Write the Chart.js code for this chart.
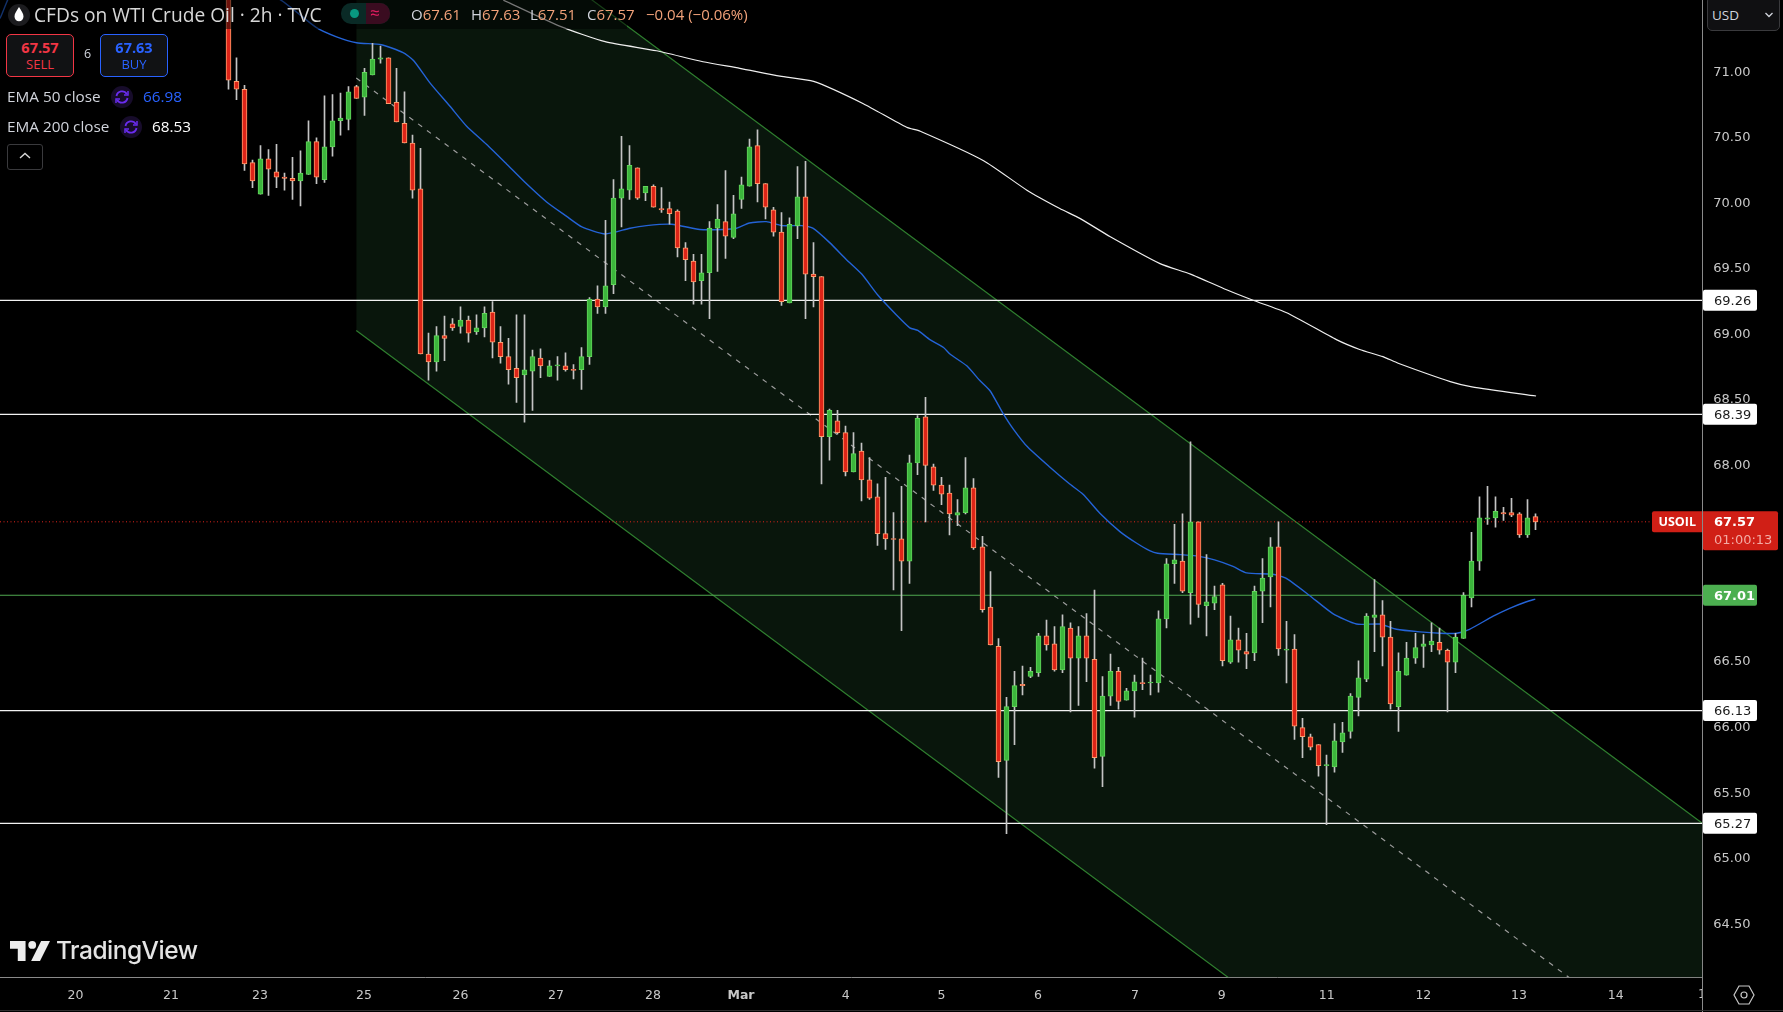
<!DOCTYPE html>
<html>
<head>
<meta charset="utf-8">
<title>CFDs on WTI Crude Oil</title>
<script src="https://cdn.jsdelivr.net/npm/chart.js@4"></script>
<style>
html, body { margin:0; padding:0; background:#000; width:1783px; height:1012px; overflow:hidden; }
#wrap { position:relative; width:1783px; height:1012px; font-family:"Open Sans", sans-serif; color:#d1d4dc; }
canvas { position:absolute; left:0; top:0; }
.abs { position:absolute; white-space:nowrap; }
.band { position:absolute; left:0; top:0; width:627px; height:29px; background:rgba(0,0,0,0.5); }
.trade { position:absolute; top:34px; height:41px; width:66px; border-radius:5px; background:#111214; text-align:center; }
.trade b { display:block; font-size:14.5px; line-height:17px; margin-top:4px; font-weight:700; }
.trade span { display:block; font-size:13px; line-height:17px; }
.vline { position:absolute; left:1702px; top:977px; width:1px; height:35px; background:#8a8a8a; }
.ohlc { position:absolute; white-space:nowrap; top:3px; font-size:15px; line-height:22px; color:#f2a27a; }
.ohlc span { color:#d1d4dc; }
.legend { position:absolute; white-space:nowrap; font-size:15.3px; line-height:20px; }
</style>
</head>
<body>
<div id="wrap">
    <canvas id="chart" width="1783" height="1012"></canvas>

    <div class="band"></div>

    <svg class="abs" style="left:7px;top:3px" width="24" height="24" viewBox="0 0 24 24">
        <circle cx="12" cy="12" r="11" fill="#1c1c1f"/>
        <path d="M12 4 C14.5 8 16.5 10.5 16.5 13.5 A4.5 4.8 0 0 1 7.5 13.5 C7.5 10.5 9.5 8 12 4 Z" fill="#fff"/>
    </svg>
    <div class="abs" style="left:34px;top:3px;font-size:19.2px;line-height:24px;color:#d8d8d8">CFDs on WTI Crude Oil · 2h · TVC</div>

    <div class="abs" style="left:341px;top:3px;width:49px;height:21px;border-radius:10px;overflow:hidden;background:#0a2a26">
        <div class="abs" style="left:25px;top:0;width:24px;height:21px;background:#3a0c20"></div>
        <div class="abs" style="left:8.5px;top:6px;width:9px;height:9px;border-radius:5px;background:#089981"></div>
        <div class="abs" style="left:29px;top:-1px;font-size:17px;line-height:21px;color:#e91e63">≈</div>
    </div>

    <div class="ohlc" style="left:411px"><span>O</span>67.61</div>
    <div class="ohlc" style="left:471px"><span>H</span>67.63</div>
    <div class="ohlc" style="left:530px"><span>L</span>67.51</div>
    <div class="ohlc" style="left:587px"><span>C</span>67.57</div>
    <div class="ohlc" style="left:646px">−0.04 (−0.06%)</div>

    <div class="trade" style="left:6px;border:1px solid #f23645;color:#f23645"><b>67.57</b><span>SELL</span></div>
    <div class="abs" style="left:84px;top:45px;font-size:12.5px;line-height:18px;color:#d1d4dc">6</div>
    <div class="trade" style="left:100px;border:1px solid #2962ff;color:#2962ff"><b>67.63</b><span>BUY</span></div>

    <div class="legend" style="left:7px;top:86px;color:#d1d4dc">EMA 50 close</div>
    <svg class="abs" style="left:111px;top:86px" width="22" height="22" viewBox="0 0 22 22">
        <circle cx="11" cy="11" r="11" fill="#170c2b"/>
        <path d="M5.5 10 A5.6 5.6 0 0 1 15.8 8 M16.5 12 A5.6 5.6 0 0 1 6.2 14" fill="none" stroke="#6a2cf0" stroke-width="1.8"/>
        <path d="M17 5 V9 H13 M5 17 V13 H9" fill="none" stroke="#6a2cf0" stroke-width="1.5"/>
    </svg>
    <div class="legend" style="left:143px;top:86px;color:#2962ff">66.98</div>

    <div class="legend" style="left:7px;top:116px;color:#d1d4dc">EMA 200 close</div>
    <svg class="abs" style="left:119.5px;top:116px" width="22" height="22" viewBox="0 0 22 22">
        <circle cx="11" cy="11" r="11" fill="#170c2b"/>
        <path d="M5.5 10 A5.6 5.6 0 0 1 15.8 8 M16.5 12 A5.6 5.6 0 0 1 6.2 14" fill="none" stroke="#6a2cf0" stroke-width="1.8"/>
        <path d="M17 5 V9 H13 M5 17 V13 H9" fill="none" stroke="#6a2cf0" stroke-width="1.5"/>
    </svg>
    <div class="legend" style="left:152px;top:116px;color:#fff">68.53</div>

    <div class="abs" style="left:7px;top:144px;width:34px;height:24px;border:1px solid #3a3a3d;border-radius:3px"></div>
    <svg class="abs" style="left:17px;top:150px" width="16" height="12" viewBox="0 0 16 12">
        <path d="M3 8 L8 3.5 L13 8" fill="none" stroke="#d8d8d8" stroke-width="1.4"/>
    </svg>

    <svg class="abs" style="left:10px;top:941px" width="40" height="20" viewBox="0 0 36 18">
        <path d="M0 0 H14 V18 H7 V7 H0 Z" fill="#ececec"/>
        <circle cx="20" cy="3.5" r="3.5" fill="#ececec"/>
        <path d="M28 0 H36 L27 18 H19 Z" fill="#ececec"/>
    </svg>
    <div class="abs" style="left:56px;top:933px;font-family:Inter, sans-serif;font-size:24.5px;line-height:34px;font-weight:500;letter-spacing:-0.5px;color:#e4e4e4">TradingView</div>

    <div class="abs" style="left:1707px;top:-4px;width:71px;height:33px;border:1px solid #3a3a3d;border-radius:5px;background:#101012"></div>
    <div class="abs" style="left:1712px;top:6px;font-size:13.5px;line-height:18px;color:#d1d4dc">USD</div>
    <svg class="abs" style="left:1764px;top:11px" width="10" height="8" viewBox="0 0 10 8">
        <path d="M1.5 2 L5 5.5 L8.5 2" fill="none" stroke="#d1d4dc" stroke-width="1.3"/>
    </svg>

    <div class="vline"></div>
    <div class="abs" style="left:0;top:1010px;width:1783px;height:1px;background:#2e2e2e"></div>
    <svg class="abs" style="left:1733px;top:983px" width="22" height="24" viewBox="0 0 22 24">
        <path d="M6 3 H16 L21 12 L16 21 H6 L1 12 Z" fill="none" stroke="#c8c8c8" stroke-width="1.2"/>
        <circle cx="11" cy="12" r="3" fill="none" stroke="#c8c8c8" stroke-width="1.2"/>
    </svg>
</div>

<script>
// ================= CANDLES (2h bars) =================
let opens = [
    72.0,70.93,70.87,70.31,70.07,70.34,70.24,70.20,70.19,70.17,
    70.22,70.47,70.18,70.43,70.63,70.64,70.89,70.81,70.98,71.10,
    71.11,70.77,70.61,70.46,70.11,68.85,68.79,68.99,69.08,69.06,
    69.11,69.02,69.05,69.17,68.94,68.83,68.74,68.69,68.72,68.82,
    68.68,68.76,68.76,68.73,68.73,68.83,69.27,69.21,69.38,70.04,
    70.10,70.27,70.08,70.13,69.96,69.96,69.94,69.66,69.56,69.41,
    69.47,69.81,69.86,69.74,70.03,70.13,70.44,70.15,69.95,69.78,
    69.24,69.83,70.05,69.46,69.44,68.22,68.34,68.25,67.95,68.11,
    67.89,67.76,67.48,67.44,67.44,67.27,68.02,68.37,67.99,67.85,
    67.79,67.62,67.64,67.83,67.38,66.92,66.62,65.75,66.16,66.33,
    66.39,66.42,66.70,66.64,66.44,66.76,66.53,66.70,66.52,65.78,
    66.24,66.43,66.21,66.28,66.34,66.34,66.34,66.83,67.25,67.27,
    67.03,67.57,66.93,66.95,67.09,66.50,66.67,66.58,66.57,67.04,
    67.15,67.38,66.59,66.60,66.00,65.93,65.87,65.71,65.70,65.89,
    65.97,66.23,66.37,66.84,66.86,66.69,66.16,66.40,66.53,66.62,
    66.63,66.65,66.59,66.50,66.68,66.99,67.27,67.59,67.60,67.64,67.64,67.63,67.47,67.61
];
let highs = [
    72.1,71.11,70.90,70.33,70.44,70.41,70.45,70.23,70.35,70.40,
    70.63,70.50,70.82,70.83,70.84,70.89,70.90,71.03,71.22,71.20,
    71.11,71.03,70.85,70.52,70.42,69.01,69.06,69.14,69.12,69.21,
    69.14,69.15,69.21,69.25,69.06,68.97,69.15,69.15,68.88,68.89,
    68.80,68.83,68.86,68.77,68.90,69.28,69.37,69.87,70.18,70.51,
    70.44,70.27,70.13,70.14,70.12,70.01,69.95,69.70,69.61,69.61,
    69.86,69.99,70.25,70.06,70.20,70.49,70.56,70.15,69.97,69.93,
    69.89,70.28,70.32,69.70,69.44,68.43,68.42,68.30,68.25,68.17,
    68.06,67.86,67.91,67.64,67.84,68.08,68.38,68.52,68.01,67.91,
    67.85,67.74,68.06,67.90,67.46,67.19,66.68,66.23,66.43,66.47,
    66.46,66.72,66.82,66.77,66.86,66.80,66.77,66.87,67.05,66.39,
    66.56,66.46,66.30,66.40,66.53,66.40,66.89,67.29,67.55,67.63,
    68.18,67.57,67.32,67.08,67.10,66.85,66.76,66.72,67.08,67.29,
    67.45,67.57,66.81,66.71,66.07,65.95,65.87,65.79,66.03,66.04,
    66.26,66.51,66.87,67.13,66.97,66.81,66.57,66.65,66.72,66.71,
    66.80,66.76,66.60,66.72,67.03,67.49,67.76,67.84,67.76,67.68,67.75,67.64,67.74,67.63
];
let lows = [
    70.87,70.79,70.25,70.12,70.07,70.06,70.12,70.10,70.03,69.98,
    70.22,70.15,70.16,70.36,70.52,70.56,70.80,70.67,70.98,71.07,
    70.76,70.62,70.46,70.04,68.85,68.65,68.72,68.80,69.03,69.01,
    68.94,69.00,68.98,68.82,68.78,68.62,68.48,68.33,68.42,68.67,
    68.68,68.65,68.72,68.66,68.58,68.77,69.16,69.16,69.31,69.82,
    70.03,70.03,70.02,69.97,69.93,69.84,69.59,69.41,69.23,69.23,
    69.12,69.48,69.58,69.73,69.96,70.13,70.01,69.88,69.75,69.22,
    69.24,69.73,69.12,69.21,67.86,68.04,68.24,67.92,67.95,67.73,
    67.74,67.39,67.36,67.05,66.74,67.10,67.93,67.57,67.81,67.70,
    67.47,67.54,67.63,67.36,66.88,66.63,65.62,65.19,65.87,66.25,
    66.38,66.39,66.59,66.43,66.42,66.12,66.17,66.35,65.69,65.55,
    66.17,66.14,66.21,66.08,66.29,66.25,66.27,66.76,67.10,67.03,
    66.79,66.84,66.70,66.90,66.47,66.49,66.50,66.45,66.51,66.80,
    66.92,66.55,66.34,65.91,65.77,65.83,65.63,65.26,65.66,65.81,
    65.92,66.09,66.35,66.58,66.47,66.14,65.97,66.40,66.49,66.46,
    66.58,66.56,66.12,66.42,66.68,66.92,67.20,67.55,67.53,67.58,67.61,67.45,67.45,67.51
];
let closes = [
    70.94,70.87,70.30,70.17,70.34,70.26,70.20,70.19,70.17,70.23,
    70.47,70.20,70.43,70.63,70.65,70.85,70.80,71.00,71.10,71.11,
    70.76,70.62,70.46,70.10,68.85,68.79,68.99,68.97,69.05,69.11,
    69.01,69.05,69.16,68.94,68.83,68.73,68.67,68.73,68.83,68.76,
    68.76,68.765,68.73,68.725,68.83,69.27,69.21,69.37,70.04,70.11,
    70.29,70.04,70.13,69.97,69.95,69.92,69.66,69.57,69.40,69.47,
    69.81,69.88,69.75,69.92,70.14,70.43,70.15,69.97,69.78,69.25,
    69.84,70.05,69.46,69.44,68.22,68.42,68.25,67.95,68.09,67.89,
    67.75,67.48,67.44,67.435,67.27,68.02,68.36,68.00,67.85,67.78,
    67.63,67.64,67.83,67.37,66.90,66.63,65.74,66.16,66.32,66.32,
    66.43,66.70,66.63,66.44,66.77,66.53,66.70,66.53,65.77,66.24,
    66.43,66.20,66.28,66.35,66.335,66.34,66.83,67.25,67.28,67.04,
    67.57,66.94,66.96,67.00,66.51,66.67,66.59,66.56,67.04,67.14,
    67.38,66.60,66.60,66.01,65.93,65.85,65.71,65.71,65.90,65.96,
    66.24,66.38,66.85,66.86,66.69,66.18,66.43,66.53,66.61,66.64,
    66.66,66.59,66.50,66.69,67.01,67.27,67.60,67.60,67.65,67.63,67.62,67.47,67.60,67.57
];

// ================= EMA LINES (bar number, price) =================
let ema50Bars = [-28.47,-26,-5,6.57,11,13.5,16,19.1,21.8,23.1,25.2,27.65,29.7,32.2,34.7,37,39.7,42.2,44.1,47,50.1,52.15,55.3,58.8,61.7,63.4,65,67.1,69,71.5,72.9,75,77.1,79,81,83.3,85,86,87.5,89.2,90,92.1,93.7,95,96.6,98,99.7,102.4,104.9,106.6,108.7,111.2,113.2,114.9,115.9,118.8,120.7,123,125.3,127,130.25,131.9,134.8,137.75,140.7,143.6,145.7,148.6,151.1,153.2,154.8,157.75,159.8,161.9,163];
let ema50 = [71.41,71.7,71.95,71.55,71.34,71.27,71.225,71.21,71.15,71.09,70.915,70.74,70.59,70.45,70.30,70.16,70.01,69.90,69.82,69.766,69.81,69.83,69.84,69.80,69.80,69.81,69.85,69.86,69.83,69.83,69.81,69.70,69.57,69.46,69.30,69.15,69.05,69.03,68.96,68.90,68.85,68.76,68.65,68.57,68.40,68.27,68.14,67.99,67.86,67.78,67.635,67.495,67.41,67.35,67.33,67.32,67.31,67.28,67.23,67.18,67.17,67.14,67.01,66.87,66.79,66.79,66.75,66.73,66.72,66.72,66.75,66.85,66.91,66.96,66.98];
let ema200Bars = [34.3,41.4,47,53.4,59.2,63.8,68.8,73,79.2,84.6,86.3,94.2,99.6,103.7,106.2,110,116.2,120,124.5,127.8,132,138.2,141.1,144,145.9,152.4,155.1,163.1];
let ema200 = [71.55,71.35,71.233,71.164,71.08,71.03,70.97,70.93,70.76,70.58,70.55,70.325,70.10,69.96,69.885,69.745,69.54,69.46,69.34,69.26,69.165,68.96,68.885,68.83,68.78,68.64,68.60,68.53];

// ================= CHANNEL (bar number, price) =================
let channelBars = [15.96,183.83];
let channelUpper = [72.885,65.27];
let channelMiddle = [70.956,63.34];
let channelLower = [69.03,61.41];

// ================= LEVELS =================
let whiteLevels = [69.26,68.39,66.13,65.27];
let greenLevel = 67.01;
let lastPrice = 67.57;

// ================= AXES =================
let priceTicks = [64.5,65,65.5,66,66.5,67,67.5,68,68.5,69,69.5,70,70.5,71];
let dayLabels = ["20","21","23","25","26","27","28","Mar","4","5","6","7","9","11","12","13","14"];
let dayBars = [-19.06,-7.15,3.95,16.92,28.95,40.87,52.97,63.94,76.99,88.96,100.98,113.07,123.9,137,149.04,160.97,173.03];
let clippedDayLabel = "15";
let clippedDayBar = 184.3;

const priceMin = 64.095;
const priceMax = 71.551;
const barMin = -28.47;
const barMax = 183.83;

const RED_FILL = "#dd2418";
const RED_EDGE = "#ff9d6c";
const GREEN_FILL = "#3cb53c";
const GREEN_EDGE = "#62d45c";
const TICK_FONT = "DejaVu Sans";

// ================= BUILD DATASETS =================
function pairs(xs, ys){

    return xs.map((x, i) => ({ x: x, y: ys[i] }));

}

function levelLine(value, color, width, dash, order){

    return {
        type: "line",
        data: pairs([barMin, barMax], [value, value]),
        borderColor: color,
        borderWidth: width,
        borderDash: dash,
        pointRadius: 0,
        order: order
    };

}

// scale padding would push the plot away from the window edges
function noPadding(scale){

    scale.paddingTop = 0;
    scale.paddingBottom = 0;
    scale.paddingLeft = 0;
    scale.paddingRight = 0;

}

let isUp = closes.map((c, i) => c >= opens[i]);

let wicks = {
    type: "bar",
    data: highs.map((h, i) => ({ x: i, y: [lows[i], h] })),
    backgroundColor: "#c4c4c4",
    borderWidth: 0,
    barThickness: 1,
    grouped: false,
    order: 2
};

let bodies = {
    type: "bar",
    data: opens.map((o, i) => ({ x: i, y: [Math.min(o, closes[i]), Math.max(o, closes[i])] })),
    backgroundColor: isUp.map(u => u ? GREEN_FILL : RED_FILL),
    borderColor: isUp.map(u => u ? GREEN_EDGE : RED_EDGE),
    borderWidth: 1,
    borderSkipped: false,
    barThickness: 5,
    minBarLength: 1,
    grouped: false,
    order: 1
};

let datasets = [

    // 0: upper edge, filled down to the lower edge (dataset 1)
    {
        type: "line",
        data: pairs(channelBars, channelUpper),
        borderColor: "#2f7f2f",
        borderWidth: 1.2,
        pointRadius: 0,
        fill: { target: 1 },
        backgroundColor: "#09160c",
        order: 20
    },
    {
        type: "line",
        data: pairs(channelBars, channelLower),
        borderColor: "#2f7f2f",
        borderWidth: 1.2,
        pointRadius: 0,
        order: 19
    },
    {
        type: "line",
        data: pairs(channelBars, channelMiddle),
        borderColor: "#9c9c9c",
        borderWidth: 1.2,
        borderDash: [5, 6],
        pointRadius: 0,
        order: 18
    },

    levelLine(lastPrice, "#e0241c", 1, [1, 2.5], 10),
    levelLine(greenLevel, "#4fa84f", 1.1, [], 9),
    ...whiteLevels.map(v => levelLine(v, "#f2f2f2", 1.2, [], 8)),

    {
        type: "line",
        data: pairs(ema200Bars, ema200),
        borderColor: "#eeeeee",
        borderWidth: 1.2,
        pointRadius: 0,
        tension: 0.2,
        order: 7
    },
    {
        type: "line",
        data: pairs(ema50Bars, ema50),
        borderColor: "#2463d6",
        borderWidth: 1.4,
        pointRadius: 0,
        tension: 0.2,
        order: 6
    },

    wicks,
    bodies

];

// ================= PLUGIN: CRISP CANDLES =================
let snapCandles = {

    id: "snapCandles",

    beforeDatasetDraw(chart, args){

        if(args.meta.type !== "bar"){
            return;
        }

        args.meta.data.forEach(el => {
            el.x = Math.round(el.x - 0.5) + 0.5;
        });

    }

};

// ================= PLUGIN: PRICE TAGS =================
function priceTag(ctx, y, text, fill, color){

    ctx.fillStyle = fill;
    ctx.beginPath();
    ctx.roundRect(1703, y - 10.5, 54, 21, 2);
    ctx.fill();

    ctx.fillStyle = color;
    ctx.textAlign = "left";
    ctx.textBaseline = "middle";
    ctx.fillText(text, 1714, y + 1);

}

let priceTags = {

    id: "priceTags",

    afterDraw(chart){

        let ctx = chart.ctx;
        let yScale = chart.scales.y;
        let xScale = chart.scales.x;

        ctx.save();
        ctx.font = "13px " + TICK_FONT;

        whiteLevels.forEach(v => {
            priceTag(ctx, yScale.getPixelForValue(v), v.toFixed(2), "#ffffff", "#1a1a1a");
        });

        ctx.font = "bold 13px " + TICK_FONT;
        priceTag(ctx, yScale.getPixelForValue(greenLevel), greenLevel.toFixed(2), "#4caf50", "#ffffff");

        // last price: symbol tag, price and countdown
        let lastY = yScale.getPixelForValue(lastPrice);

        ctx.fillStyle = "#d01f16";
        ctx.beginPath();
        ctx.roundRect(1652, lastY - 10.5, 50, 21, [2, 0, 0, 2]);
        ctx.fill();
        ctx.beginPath();
        ctx.roundRect(1703, lastY - 10.5, 75, 39, [0, 2, 2, 2]);
        ctx.fill();

        ctx.textAlign = "left";
        ctx.textBaseline = "middle";
        ctx.fillStyle = "#ffffff";
        ctx.font = "bold 12.5px 'Open Sans'";
        ctx.fillText("USOIL", 1658.5, lastY + 0.5);
        ctx.font = "bold 13px " + TICK_FONT;
        ctx.fillText(lastPrice.toFixed(2), 1714, lastY + 1);
        ctx.font = "13px " + TICK_FONT;
        ctx.fillStyle = "#f3aaa4";
        ctx.fillText("01:00:13", 1714, lastY + 19);

        // the day label cut off by the price scale
        ctx.beginPath();
        ctx.rect(0, xScale.bottom - 40, xScale.right, 40);
        ctx.clip();
        ctx.font = "12.5px " + TICK_FONT;
        ctx.fillStyle = "#c8c8c8";
        ctx.textAlign = "center";
        ctx.fillText(clippedDayLabel, xScale.getPixelForValue(clippedDayBar), 995);

        ctx.restore();

    }

};

// ================= CHART =================
new Chart(document.getElementById("chart"), {

    type: "bar",

    data: { datasets: datasets },

    plugins: [snapCandles, priceTags],

    options: {

        responsive: false,
        animation: false,
        devicePixelRatio: 1,
        events: [],

        layout: { padding: 0 },

        plugins: {
            legend: { display: false },
            tooltip: { enabled: false }
        },

        scales: {

            x: {
                type: "linear",
                offset: false,
                min: barMin,
                max: barMax,
                grid: { display: false, drawTicks: false },
                border: { display: true, color: "#8a8a8a", width: 1 },
                afterBuildTicks(scale){
                    scale.ticks = dayBars.map(v => ({ value: v }));
                },
                afterFit(scale){
                    scale.height = 34.7;
                    noPadding(scale);
                },
                ticks: {
                    autoSkip: false,
                    maxRotation: 0,
                    padding: 11,
                    color: "#c8c8c8",
                    font: ctx => ({
                        family: TICK_FONT,
                        size: 12.5,
                        weight: ctx.tick && ctx.tick.label === "Mar" ? "bold" : "normal"
                    }),
                    callback: (value, i) => dayLabels[i]
                }
            },

            y: {
                position: "right",
                min: priceMin,
                max: priceMax,
                grid: { display: false, drawTicks: false },
                border: { display: true, color: "#8a8a8a", width: 1 },
                afterBuildTicks(scale){
                    scale.ticks = priceTicks.map(v => ({ value: v }));
                },
                afterFit(scale){
                    scale.width = 80.7;
                    noPadding(scale);
                },
                ticks: {
                    padding: 11,
                    color: "#c8c8c8",
                    font: { family: TICK_FONT, size: 13 },
                    callback: value => value.toFixed(2)
                }
            }

        }

    }

});
</script>
</body>
</html>
